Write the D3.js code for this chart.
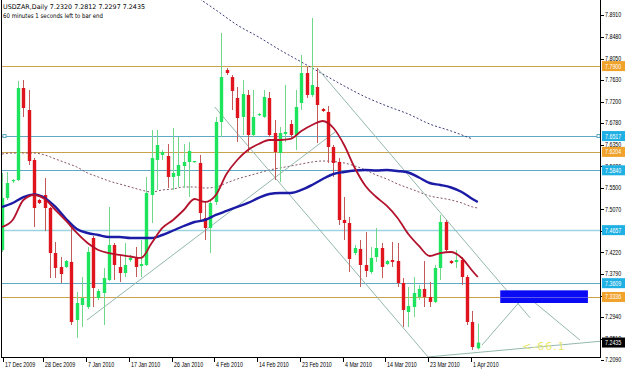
<!DOCTYPE html>
<html>
<head>
<meta charset="utf-8">
<script src="https://cdn.jsdelivr.net/npm/d3@7"></script>
<style>
html, body { margin: 0; padding: 0; background: #fff; }
svg { display: block; }
</style>
</head>
<body>
<svg id="chart" width="625" height="370"></svg>
<script>
// header texts
const titleLine = "USDZAR,Daily  7.2320 7.2812 7.2297 7.2435";
const timerLine = "60 minutes 1 seconds left to bar end";

// daily candles, 17 Dec 2009 .. 2 Apr 2010
const opens = [7.4265, 7.5293, 7.5629, 7.5648, 7.7467, 7.7032, 7.6044, 7.5253, 7.5352, 7.5095,
  7.4205, 7.3929, 7.3929, 7.4028, 7.2881, 7.3178, 7.3138, 7.4502, 7.3316, 7.3415,
  7.3672, 7.4364, 7.3929, 7.3810, 7.4067, 7.4126, 7.3948, 7.3968, 7.5352, 7.6044,
  7.6143, 7.6123, 7.5708, 7.5728, 7.5925, 7.6004, 7.6004, 7.5985, 7.4897, 7.4700,
  7.5214, 7.6795, 7.7823, 7.7684, 7.7269, 7.6894, 7.7329, 7.6538, 7.6933, 7.6894,
  7.7269, 7.6578, 7.6182, 7.6558, 7.6755, 7.6538, 7.7170, 7.7763, 7.7329, 7.7487,
  7.7052, 7.6993, 7.6301, 7.6004, 7.4858, 7.4798, 7.4205, 7.4285, 7.3968, 7.3830,
  7.4126, 7.4304, 7.3988, 7.4067, 7.4047, 7.3612, 7.3039, 7.3138, 7.3336, 7.3494,
  7.3336, 7.3237, 7.3909, 7.4818, 7.4047, 7.4028, 7.4067, 7.3731, 7.2842, 7.2320];
const highs = [7.5787, 7.5807, 7.5668, 7.7605, 7.7625, 7.7427, 7.6083, 7.5273, 7.5688, 7.5115,
  7.4423, 7.4126, 7.4067, 7.4798, 7.3435, 7.3731, 7.4324, 7.4542, 7.3494, 7.3909,
  7.5115, 7.4403, 7.4166, 7.4403, 7.4166, 7.4324, 7.4462, 7.5708, 7.6637, 7.6637,
  7.6241, 7.6360, 7.6676, 7.6498, 7.6360, 7.6400, 7.6024, 7.6143, 7.5214, 7.5253,
  7.6894, 7.8554, 7.7862, 7.7724, 7.7487, 7.7625, 7.7427, 7.7427, 7.6973, 7.7427,
  7.7388, 7.6835, 7.6696, 7.7526, 7.6835, 7.7427, 7.8119, 7.7882, 7.8851, 7.7862,
  7.7072, 7.7111, 7.6340, 7.6083, 7.5312, 7.4917, 7.4364, 7.4462, 7.4621, 7.4324,
  7.4700, 7.4403, 7.4067, 7.4423, 7.4403, 7.3711, 7.3533, 7.3731, 7.3573, 7.4047,
  7.3632, 7.3968, 7.4957, 7.4858, 7.4067, 7.4265, 7.4126, 7.3771, 7.3059, 7.2812];
const lows = [7.4225, 7.5253, 7.5589, 7.5629, 7.6894, 7.5945, 7.4719, 7.5174, 7.4640, 7.3711,
  7.3711, 7.3612, 7.3909, 7.2782, 7.2525, 7.2743, 7.3099, 7.3138, 7.3276, 7.2782,
  7.3652, 7.3672, 7.3632, 7.3731, 7.4028, 7.3731, 7.3731, 7.3948, 7.4798, 7.5451,
  7.6044, 7.5490, 7.5451, 7.5510, 7.5490, 7.5312, 7.5985, 7.4858, 7.4462, 7.4205,
  7.5154, 7.6498, 7.7724, 7.7032, 7.6400, 7.6538, 7.6202, 7.6498, 7.6914, 7.6874,
  7.6498, 7.5648, 7.5609, 7.6400, 7.6479, 7.6241, 7.7032, 7.7269, 7.7289, 7.6380,
  7.6993, 7.5985, 7.5708, 7.4759, 7.4462, 7.3830, 7.4166, 7.3533, 7.3731, 7.3790,
  7.4028, 7.3711, 7.3968, 7.3929, 7.3533, 7.2743, 7.2743, 7.2940, 7.3276, 7.3138,
  7.3138, 7.3217, 7.3672, 7.4205, 7.3988, 7.3909, 7.3573, 7.2782, 7.2288, 7.2297];
const closes = [7.5293, 7.5589, 7.5648, 7.7467, 7.7072, 7.6024, 7.5095, 7.5194, 7.5095, 7.4205,
  7.3909, 7.3790, 7.4047, 7.2842, 7.3217, 7.3316, 7.4225, 7.3514, 7.3454, 7.3711,
  7.4364, 7.3968, 7.3810, 7.3968, 7.4107, 7.3929, 7.3988, 7.5392, 7.6083, 7.6340,
  7.6202, 7.5708, 7.5787, 7.5945, 7.6004, 7.6222, 7.6024, 7.4996, 7.4700, 7.5194,
  7.6795, 7.7684, 7.7763, 7.7408, 7.6874, 7.7348, 7.6538, 7.6894, 7.6953, 7.7289,
  7.6538, 7.6202, 7.6578, 7.6597, 7.6538, 7.7091, 7.7763, 7.7329, 7.7526, 7.7131,
  7.7012, 7.6301, 7.5985, 7.4858, 7.4798, 7.4087, 7.4304, 7.3968, 7.3850, 7.4107,
  7.4304, 7.3929, 7.4047, 7.4028, 7.3612, 7.3079, 7.3158, 7.3415, 7.3494, 7.3336,
  7.3237, 7.3909, 7.4818, 7.4265, 7.4008, 7.4067, 7.3731, 7.2842, 7.2347, 7.2435];

// moving averages read at every second bar (plus the last one)
const maBars = d3.range(0, 89, 2).concat([89]);
const maFast = [7.4719, 7.4858, 7.5253, 7.5352, 7.5273, 7.5055, 7.4838, 7.4601, 7.4403, 7.4265,
  7.4205, 7.4166, 7.4136, 7.4107, 7.4403, 7.4700, 7.4858, 7.5055, 7.5273, 7.5214,
  7.5352, 7.5767, 7.6044, 7.6241, 7.6360, 7.6439, 7.6439, 7.6459, 7.6617, 7.6736,
  7.6815, 7.6676, 7.6340, 7.5886, 7.5530, 7.5312, 7.5135, 7.4897, 7.4581, 7.4344,
  7.4146, 7.4205, 7.4225, 7.4107, 7.3850, 7.3731];
const maSlow = [7.5115, 7.5194, 7.5312, 7.5362, 7.5293, 7.5115, 7.4878, 7.4680, 7.4601, 7.4561,
  7.4522, 7.4522, 7.4502, 7.4502, 7.4502, 7.4561, 7.4650, 7.4739, 7.4818, 7.4858,
  7.4957, 7.5036, 7.5115, 7.5194, 7.5293, 7.5372, 7.5392, 7.5392, 7.5451, 7.5550,
  7.5668, 7.5767, 7.5807, 7.5836, 7.5846, 7.5836, 7.5846, 7.5826, 7.5797, 7.5698,
  7.5589, 7.5550, 7.5500, 7.5411, 7.5273, 7.5214];
const maDotted = [7.6162, 7.6182, 7.6182, 7.6182, 7.6143, 7.6064, 7.5985, 7.5905, 7.5787, 7.5708,
  7.5629, 7.5569, 7.5510, 7.5451, 7.5411, 7.5451, 7.5471, 7.5510, 7.5510, 7.5490,
  7.5510, 7.5589, 7.5668, 7.5728, 7.5787, 7.5846, 7.5886, 7.5925, 7.5965, 7.6004,
  7.6024, 7.6014, 7.5985, 7.5925, 7.5846, 7.5747, 7.5668, 7.5569, 7.5490, 7.5411,
  7.5332, 7.5293, 7.5253, 7.5194, 7.5115, 7.5095];
const longMaBars = [37, 40, 44, 48, 52, 56, 60, 64, 68, 72, 76, 80, 84, 88];
const longMa = [7.9226, 7.9009, 7.8712, 7.8475, 7.8218, 7.7981, 7.7744, 7.7507, 7.7289, 7.7111,
  7.6953, 7.6755, 7.6617, 7.6459];

// axis labels
const priceTicks = [7.8910, 7.8480, 7.8050, 7.7630, 7.7200, 7.6780, 7.6350, 7.5920, 7.5500,
  7.5070, 7.4640, 7.4220, 7.3790, 7.3360, 7.2940, 7.2510, 7.2090];
const dateBars = [0, 8, 16, 24, 32, 40, 48, 56, 64, 72, 80, 88];
const dateLabels = ["17 Dec 2009", "28 Dec 2009", "7 Jan 2010", "17 Jan 2010", "26 Jan 2010",
  "4 Feb 2010", "14 Feb 2010", "23 Feb 2010", "4 Mar 2010", "14 Mar 2010", "23 Mar 2010", "1 Apr 2010"];

// horizontal levels
const orangeLevels = [7.7900, 7.6204, 7.3336];
const blueLevels = [7.6517, 7.5840, 7.4657, 7.3609];
const lastPrice = 7.2435;

// trend lines [bar, price] -> [bar, price]
const trendFrom = [[39.8, 7.7091], [79.7, 7.2150], [58.9, 7.7866], [15.9, 7.2881], [89.8, 7.2387], [98.6, 7.3316]];
const trendTo = [[79.7, 7.2150], [112.5, 7.2466], [98.8, 7.2921], [62.3, 7.6597], [97.6, 7.3336], [108.1, 7.2486]];

// target zone and fibo text
const zoneBars = [93.2, 109.6];
const zonePrices = [7.3467, 7.3217];
const fiboText = "<-66.1";
const fiboAt = [97.3, 7.2290];

const W = 625, H = 370;
const plotL = 2, plotR = 600, plotB = 357;

const x = d3.scaleLinear().domain([0, 89]).range([2, 2 + 89 * 5.346]);
const y = d3.scaleLinear().domain([7.2090, 7.8910]).range([360, 15]);

const svg = d3.select("#chart");
const font = "'DejaVu Sans', Verdana, sans-serif";
const axisFont = "'Liberation Sans', Arial, sans-serif";

svg.append("defs").append("clipPath").attr("id", "plot")
  .append("rect").attr("x", plotL).attr("y", 0).attr("width", plotR - plotL).attr("height", plotB);

const g = svg.append("g").attr("clip-path", "url(#plot)");

// horizontal levels
g.selectAll("line.orange").data(orangeLevels).join("line")
  .attr("x1", plotL).attr("x2", plotR)
  .attr("y1", d => Math.round(y(d)) + 0.5).attr("y2", d => Math.round(y(d)) + 0.5)
  .attr("stroke", "#c9a24e").attr("stroke-width", 1);

g.selectAll("line.blue").data(blueLevels).join("line")
  .attr("x1", plotL).attr("x2", plotR)
  .attr("y1", d => Math.round(y(d)) + 0.5).attr("y2", d => Math.round(y(d)) + 0.5)
  .attr("stroke", (d, i) => i === 2 ? "#9ed3e3" : "#5eaac6")
  .attr("stroke-width", (d, i) => i === 2 ? 1.6 : 1);

// dotted moving averages
const line = d3.line().curve(d3.curveMonotoneX);
g.append("path")
  .attr("d", line(longMaBars.map((b, i) => [x(b), y(longMa[i])])))
  .attr("fill", "none").attr("stroke", "#3d3d7a").attr("stroke-width", 1)
  .attr("stroke-dasharray", "2,2");
g.append("path")
  .attr("d", line(maBars.map((b, i) => [x(b), y(maDotted[i])])))
  .attr("fill", "none").attr("stroke", "#8a5566").attr("stroke-width", 1)
  .attr("stroke-dasharray", "2,2");

// trend lines
g.selectAll("line.trend").data(trendFrom).join("line")
  .attr("x1", d => x(d[0])).attr("y1", d => y(d[1]))
  .attr("x2", (d, i) => x(trendTo[i][0])).attr("y2", (d, i) => y(trendTo[i][1]))
  .attr("stroke", "#93b8ad").attr("stroke-width", 1);

// candles
const bars = d3.range(opens.length);
const up = i => closes[i] >= opens[i];
g.selectAll("line.wick").data(bars).join("line")
  .attr("x1", i => Math.round(x(i)) + 0.5).attr("x2", i => Math.round(x(i)) + 0.5)
  .attr("y1", i => y(highs[i])).attr("y2", i => y(lows[i]))
  .attr("stroke", i => up(i) ? "#6fd88a" : "#c25a5a").attr("stroke-width", 1);

g.selectAll("rect.body").data(bars).join("rect")
  .attr("x", i => Math.round(x(i)) + 0.5 - 1.7)
  .attr("width", 3.4)
  .attr("y", i => y(Math.max(opens[i], closes[i])))
  .attr("height", i => Math.max(1.2, Math.abs(y(opens[i]) - y(closes[i]))))
  .attr("fill", i => up(i) ? "#1ee35c" : "#e0141c");

// solid moving averages
g.append("path")
  .attr("d", line(maBars.map((b, i) => [x(b), y(maSlow[i])])))
  .attr("fill", "none").attr("stroke", "#1b1ba6").attr("stroke-width", 2.4);
g.append("path")
  .attr("d", line(maBars.map((b, i) => [x(b), y(maFast[i])])))
  .attr("fill", "none").attr("stroke", "#b3122c").attr("stroke-width", 1.8);

// target zone
g.append("rect")
  .attr("x", x(zoneBars[0])).attr("width", x(zoneBars[1]) - x(zoneBars[0]))
  .attr("y", y(zonePrices[0])).attr("height", y(zonePrices[1]) - y(zonePrices[0]))
  .attr("fill", "#0a0af5");
g.append("line")
  .attr("x1", x(zoneBars[0])).attr("x2", x(zoneBars[1]))
  .attr("y1", Math.round(y(orangeLevels[2])) + 0.5).attr("y2", Math.round(y(orangeLevels[2])) + 0.5)
  .attr("stroke", "#5a5af0").attr("stroke-width", 1);

g.append("text")
  .attr("x", x(fiboAt[0])).attr("y", y(fiboAt[1]))
  .attr("fill", "#e6e66e").attr("font-family", font).attr("font-size", 11)
  .attr("letter-spacing", 1)
  .text(fiboText);

// alert markers at 7.6517
[plotL + 1, plotR - 3].forEach(px => {
  svg.append("rect").attr("x", px).attr("y", Math.round(y(blueLevels[0])) - 1.5)
    .attr("width", 3).attr("height", 3).attr("fill", "#fff").attr("stroke", "#5eaac6");
});

// frame
svg.append("line").attr("x1", plotL - 0.5).attr("x2", plotL - 0.5).attr("y1", 0).attr("y2", plotB)
  .attr("stroke", "#000");
svg.append("line").attr("x1", plotR + 0.5).attr("x2", plotR + 0.5).attr("y1", 0).attr("y2", plotB)
  .attr("stroke", "#000");
svg.append("line").attr("x1", plotL - 1).attr("x2", plotR + 1).attr("y1", plotB + 0.5).attr("y2", plotB + 0.5)
  .attr("stroke", "#000");

// narrow text helper: regular sans squeezed horizontally
function narrowText(sel, px, py) {
  return sel.attr("transform", `translate(${px},${py}) scale(0.76,1)`);
}

// price axis
const yAxis = svg.append("g").attr("font-family", axisFont).attr("font-size", 7);
yAxis.selectAll("line").data(priceTicks).join("line")
  .attr("x1", plotR + 1).attr("x2", plotR + 4)
  .attr("y1", d => Math.round(y(d)) + 0.5).attr("y2", d => Math.round(y(d)) + 0.5)
  .attr("stroke", "#000");
yAxis.selectAll("text").data(priceTicks).join("text")
  .attr("dy", "0.35em").attr("fill", "#000")
  .each(function (d) { narrowText(d3.select(this), plotR + 5, y(d)); })
  .text(d => d.toFixed(4));

// level price tags
function tag(v, bg) {
  const t = svg.append("g").attr("font-family", axisFont).attr("font-size", 7);
  t.append("rect").attr("x", plotR + 2).attr("y", y(v) - 5).attr("width", W - plotR - 2).attr("height", 10)
    .attr("fill", bg);
  narrowText(t.append("text"), plotR + 5, y(v))
    .attr("dy", "0.35em").attr("fill", "#fff").text(v.toFixed(4));
}
orangeLevels.forEach(v => tag(v, "#f0a22a"));
blueLevels.forEach(v => tag(v, "#1fb0e4"));
tag(lastPrice, "#000");

// time axis
const tickX = d => Math.max(plotL + 1, Math.round(x(d) - 1.5)) + 0.5;
const xAxis = svg.append("g").attr("font-family", axisFont).attr("font-size", 7);
xAxis.selectAll("line").data(dateBars).join("line")
  .attr("x1", tickX).attr("x2", tickX)
  .attr("y1", plotB + 1).attr("y2", plotB + 5).attr("stroke", "#000");
xAxis.selectAll("text").data(dateBars).join("text")
  .attr("fill", "#000")
  .each(function (d) { narrowText(d3.select(this), tickX(d) + 1.5, 367); })
  .text((d, i) => dateLabels[i]);

// header
svg.append("text").attr("x", 3).attr("y", 9).attr("font-family", font).attr("font-size", 6.4)
  .attr("textLength", 142).attr("lengthAdjust", "spacingAndGlyphs")
  .attr("fill", "#000").text(titleLine);
svg.append("text").attr("x", 3).attr("y", 17.5).attr("font-family", font).attr("font-size", 6.4)
  .attr("textLength", 100).attr("lengthAdjust", "spacingAndGlyphs")
  .attr("fill", "#000").text(timerLine);
</script>
</body>
</html>
